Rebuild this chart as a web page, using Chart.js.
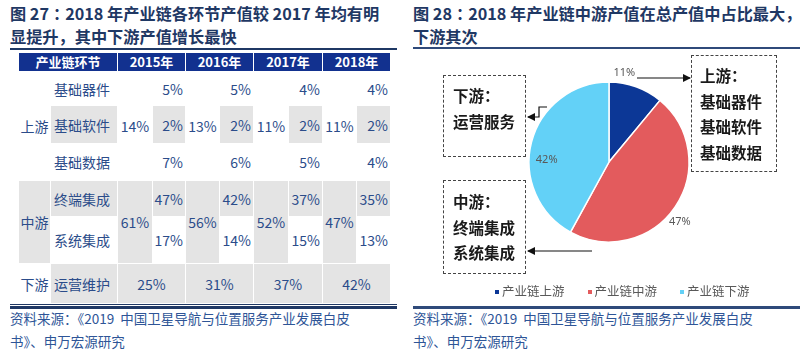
<!DOCTYPE html>
<html><head><meta charset="utf-8">
<script src="https://cdn.jsdelivr.net/npm/chart.js@4/dist/chart.umd.min.js"></script>
<style>
body{margin:0;width:800px;height:362px;background:#fff;position:relative;overflow:hidden;font-family:"Noto Sans CJK SC","Noto Sans",sans-serif;}
.title{position:absolute;top:2px;font-weight:bold;font-size:16.2px;color:#1f3864;line-height:23px;white-space:nowrap;}
.title .co{margin:0 -4px 0 4px;}
.rule{position:absolute;background:#1f3864;}
.src{position:absolute;top:307px;font-size:13.5px;color:#2e5597;line-height:23px;white-space:nowrap;}
table{position:absolute;left:18px;top:52px;border-collapse:collapse;table-layout:fixed;font-size:14px;color:#2b4c8a;}
td,th{border:1px solid #fff;padding:0;overflow:hidden;white-space:nowrap;}
th{background:#12318f;color:#fff;font-size:13px;font-weight:bold;height:18px;line-height:18px;text-align:center;}
td.g{background:#e4e4e4;}
td.c{text-align:center;}
td.r{text-align:right;padding-right:2px;}
td.l{text-align:left;padding-left:3px;}
.box{position:absolute;border:1.5px dashed #444;box-sizing:border-box;font-weight:bold;font-size:15.5px;color:#1a1a1a;line-height:25.6px;white-space:nowrap;}
#legend{position:absolute;top:281px;left:495px;display:flex;font-size:12.5px;color:#595959;line-height:20px;}
#legend span.sw{display:inline-block;width:4px;height:4px;margin-right:3px;vertical-align:middle;position:relative;top:-1px;}
#legend div{margin-right:23px;}
</style></head>
<body>
<div class="title" style="left:10px">图 27<span class="co">：</span>2018 年产业链各环节产值较 2017 年均有明<br>显提升，其中下游产值增长最快</div>
<div class="title" style="left:413px">图 28<span class="co">：</span>2018 年产业链中游产值在总产值中占比最大，<br>下游其次</div>
<div class="rule" style="left:10px;top:48px;width:387px;height:2px"></div>
<div class="rule" style="left:413px;top:47px;width:387px;height:2px;background:#2f4a7a"></div>
<div class="rule" style="left:10px;top:304px;width:387px;height:1px"></div>
<div class="rule" style="left:10px;top:306px;width:387px;height:3px"></div>
<div class="rule" style="left:413px;top:306px;width:387px;height:3px;background:#2f4a7a"></div>
<div class="src" style="left:10px">资料来源：《2019&nbsp; 中国卫星导航与位置服务产业发展白皮<br>书》、申万宏源研究</div>
<div class="src" style="left:413px">资料来源：《2019&nbsp; 中国卫星导航与位置服务产业发展白皮<br>书》、申万宏源研究</div>
<table id="tbl"></table>
<canvas id="pie" width="387" height="255" style="position:absolute;left:413px;top:50px"></canvas>
<div class="box" style="left:691px;top:55px;width:86px;height:117px;padding:7px 0 0 8px">上游：<br>基础器件<br>基础软件<br>基础数据</div>
<div class="box" style="left:443px;top:75px;width:83px;height:82px;padding:7px 0 0 9px">下游：<br>运营服务</div>
<div class="box" style="left:443px;top:180px;width:83px;height:94px;padding:8px 0 0 9px">中游：<br>终端集成<br>系统集成</div>
<svg style="position:absolute;left:0;top:0" width="800" height="362">
<defs><marker id="ah" markerWidth="8" markerHeight="8" refX="7" refY="4" orient="auto" markerUnits="userSpaceOnUse"><path d="M0,0 L8,4 L0,8 z" fill="#111"/></marker></defs>
<line x1="637" y1="78" x2="690" y2="78" stroke="#111" stroke-width="1.2" marker-end="url(#ah)"/>
<polyline points="547,107 539,107 539,117 528,117" fill="none" stroke="#111" stroke-width="1.2" marker-end="url(#ah)"/>
<line x1="592" y1="251" x2="528" y2="251" stroke="#111" stroke-width="1.2" marker-end="url(#ah)"/>
</svg>
<div id="legend"></div>
<script>
const years = ['2015年','2016年','2017年','2018年'];
const segments = ['上游','中游','下游'];
const subSegments = ['基础器件','基础软件','基础数据','终端集成','系统集成','运营维护'];
const upstreamTotal = [14,13,11,11];
const midstreamTotal = [61,56,52,47];
const basicDevices = [5,5,4,4];
const basicSoftware = [2,2,2,2];
const basicData = [7,6,5,4];
const terminalIntegration = [47,42,37,35];
const systemIntegration = [17,14,15,13];
const operations = [25,31,37,42];
const pieLabels = ['产业链上游','产业链中游','产业链下游'];
const pieValues = [11,47,42];
const pieColors = ['#0c3796','#e35b5d','#63d1f7'];

// ---- table ----
const colW = [32,67,35,33,34,34,35,34,34,34];
const rowH = [34,38,37,36,47,40];
const pct = v => v + '%';
let h = '<colgroup>' + colW.map(w=>`<col style="width:${w}px">`).join('') + '</colgroup>';
h += '<tr><th colspan="2">产业链环节</th>' + years.map(y=>`<th colspan="2">${y}</th>`).join('') + '</tr>';
const subs = [basicDevices, basicSoftware, basicData, terminalIntegration, systemIntegration];
const shade = [false,true,false,true,false];
for (let r=0;r<5;r++){
  const g = shade[r] ? ' g' : '';
  h += `<tr style="height:${rowH[r]}px">`;
  if (r===0) h += `<td class="c" rowspan="3">${segments[0]}</td>`;
  if (r===3) h += `<td class="c g" rowspan="2">${segments[1]}</td>`;
  h += `<td class="l${g}">${subSegments[r]}</td>`;
  for (let y=0;y<4;y++){
    if (r===0) h += `<td class="c" rowspan="3">${pct(upstreamTotal[y])}</td>`;
    if (r===3) h += `<td class="c g" rowspan="2">${pct(midstreamTotal[y])}</td>`;
    h += `<td class="r${g}">${pct(subs[r][y])}</td>`;
  }
  h += '</tr>';
}
h += `<tr style="height:${rowH[5]}px"><td class="c">${segments[2]}</td><td class="l g">${subSegments[5]}</td>` +
     operations.map(v=>`<td class="c g" colspan="2">${pct(v)}</td>`).join('') + '</tr>';
document.getElementById('tbl').innerHTML = h;

// ---- legend ----
document.getElementById('legend').innerHTML = pieLabels.map((l,i)=>
  `<div><span class="sw" style="background:${pieColors[i]}"></span>${l}</div>`).join('');

// ---- pie ----
const labelAngleShift = [-10, 6, -12];
const labelRadius = [1.13, 1.16, 0.78];
const pieLabelPlugin = {
  id:'pieLabels',
  afterDatasetsDraw(chart){
    const ctx = chart.ctx;
    const meta = chart.getDatasetMeta(0);
    ctx.save();
    ctx.font = '11px "Noto Sans", sans-serif';
    ctx.fillStyle = '#595959';
    ctx.textAlign = 'center';
    ctx.textBaseline = 'middle';
    meta.data.forEach((arc,i)=>{
      const mid = (arc.startAngle + arc.endAngle)/2 + labelAngleShift[i]*Math.PI/180;
      const r = arc.outerRadius * labelRadius[i];
      ctx.fillText(pieValues[i] + '%', arc.x + Math.cos(mid)*r, arc.y + Math.sin(mid)*r);
    });
    ctx.restore();
  }
};
new Chart(document.getElementById('pie'), {
  type:'pie',
  data:{labels:pieLabels, datasets:[{data:pieValues, backgroundColor:pieColors, borderColor:'#fff', borderWidth:1.5, radius:80}]},
  options:{
    responsive:false, animation:false, devicePixelRatio:1,
    layout:{padding:{left:116,right:111,top:32,bottom:63}},
    plugins:{legend:{display:false}, tooltip:{enabled:false}}
  },
  plugins:[pieLabelPlugin]
});
</script>
</body></html>
